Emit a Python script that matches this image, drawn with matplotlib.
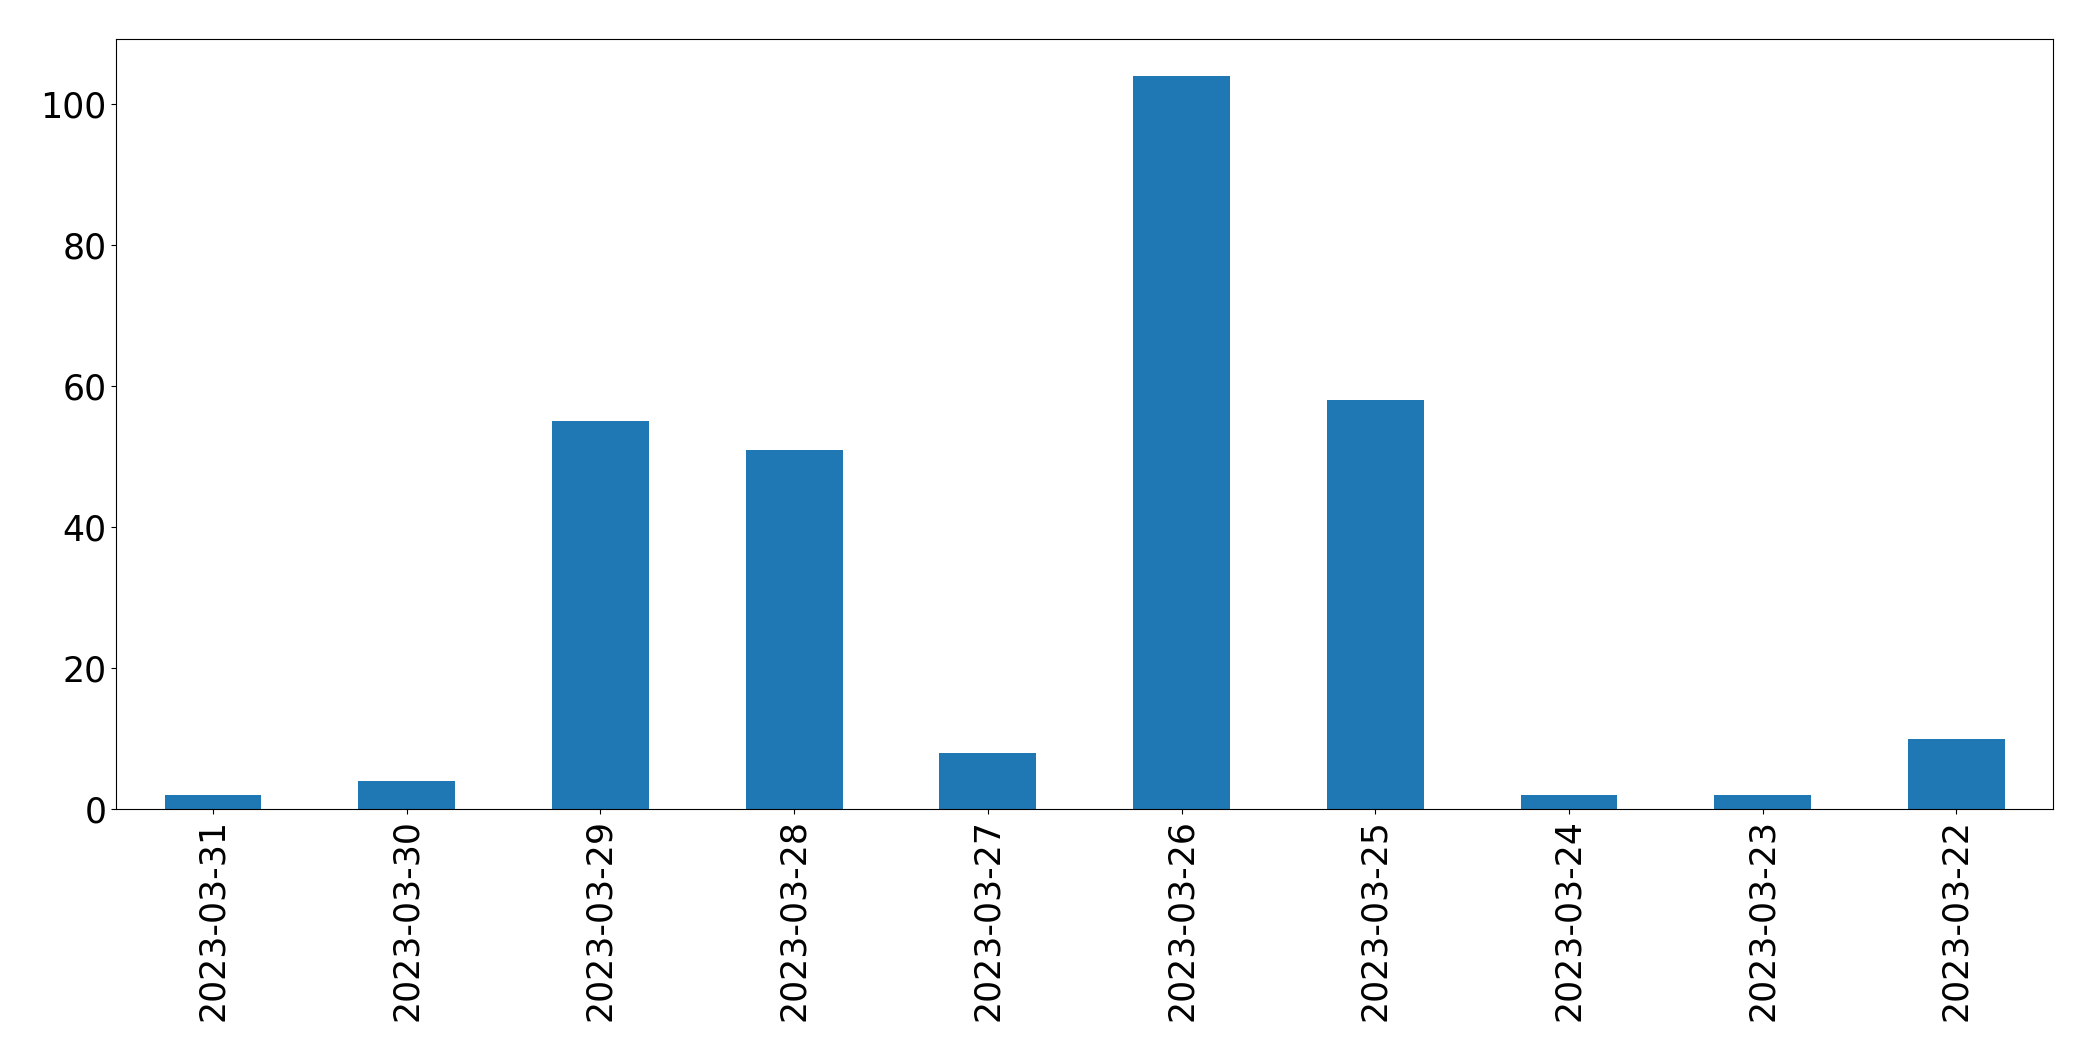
import matplotlib
matplotlib.use("Agg")
import matplotlib.pyplot as plt
import pandas as pd

# 每日數量
dates = ["2023-03-31", "2023-03-30", "2023-03-29", "2023-03-28", "2023-03-27",
         "2023-03-26", "2023-03-25", "2023-03-24", "2023-03-23", "2023-03-22"]
counts = [2, 4, 55, 51, 8, 104, 58, 2, 2, 10]

s = pd.Series(counts, index=dates)

fig, ax = plt.subplots(figsize=(20.93, 10.61), dpi=100)
s.plot.bar(ax=ax, color="#1f77b4")
ax.tick_params(axis="both", labelsize=25)
fig.subplots_adjust(left=0.0555, right=0.981, top=0.963, bottom=0.2375)
fig.savefig("out.png", dpi=100)
